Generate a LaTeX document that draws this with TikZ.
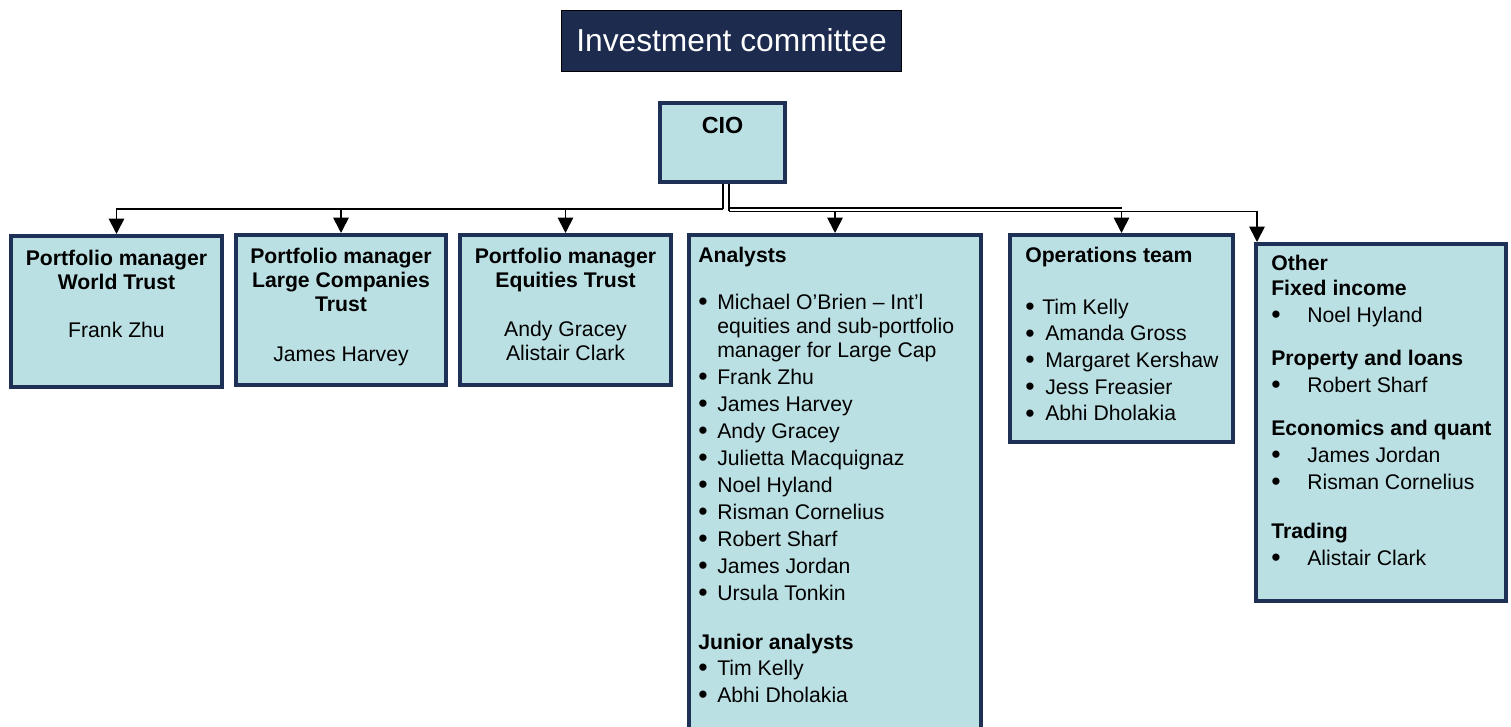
\documentclass[tikz,border=0pt]{standalone}
\usepackage{fontspec}
\setmainfont{Liberation Sans}
\usetikzlibrary{arrows.meta}
\definecolor{boxfill}{HTML}{BBE0E3}
\definecolor{navy}{HTML}{1E3055}
\definecolor{titlefill}{HTML}{1C2B4E}
\newcommand\fl{\rule{0pt}{15pt}}
\newcommand\bu[1]{\makebox[#1][l]{\raisebox{-0.9pt}{\fontsize{20pt}{18pt}\selectfont •}}}
\begin{document}
\begin{tikzpicture}[x=0.75pt,y=-0.75pt,
  box/.style={draw=navy, line width=3pt, fill=boxfill, inner sep=0pt},
  wire/.style={line width=1.3pt},
  conn/.style={line width=1.3pt, -{Triangle[width=11.5pt,length=11.5pt]}},
  txt/.style={inner sep=0pt, font=\fontsize{15.9pt}{18pt}\selectfont},
]
\useasboundingbox (0,0) rectangle (1511,727);

% title
\node[draw=black, line width=1pt, fill=titlefill, minimum width=255pt, minimum height=45.75pt, inner sep=0pt] (title) at (731.5,41) {};
\node[inner sep=0pt, anchor=base, text=white, font=\fontsize{23.8pt}{28pt}\selectfont] (titletxt) at (731.5,52) {Investment committee};

% CIO
\node[box, minimum width=93.75pt, minimum height=59.25pt] (cio) at (722.5,142.5) {};
\node[inner sep=0pt, anchor=base, font=\bfseries\fontsize{17.5pt}{20pt}\selectfont] (ciotxt) at (722.5,133.5) {CIO};

% boxes
\node[box, minimum width=158.25pt, minimum height=113.25pt] (b1) at (116.5,311.5) {};
\node[box, minimum width=157.5pt, minimum height=112.5pt] (b2) at (341,310) {};
\node[box, minimum width=158.25pt, minimum height=112.5pt] (b3) at (565.5,310) {};
\node[fill=boxfill, draw=none, inner sep=0pt, outer sep=0pt, minimum width=219pt, minimum height=369pt, anchor=north] (an) at (835,235) {};
\draw[navy, line width=3pt] (an.south west) -- (an.north west) -- (an.north east) -- (an.south east);
\node[box, minimum width=167.25pt, minimum height=155.25pt] (ops) at (1121.5,338.5) {};
\node[box, minimum width=187.5pt, minimum height=267.75pt] (oth) at (1381,422.5) {};

% connectors
\coordinate (jl) at (723,209);
\coordinate (jr) at (729,211.5);
\coordinate (jr2) at (729,208);
\draw[wire] (cio.south -| jl) -- (jl);
\draw[wire] (cio.south -| jr) -- (jr);
\draw[conn] (jl) -| (b1.north);
\draw[conn] (jl) -| (b2.north);
\draw[conn] (jl) -| (b3.north);
\draw[conn] (jr) -| ([yshift=1.5pt]an.north);
\draw[conn] (jr) -| (ops.north);
\draw[wire] (jr2) -- (jr2 -| ops.north);
\draw[conn] (jr) -| ([xshift=2.25pt]oth.north west);

% texts
\node[txt, anchor=north, align=center] (t1) at (116.5,245) {\fl\textbf{Portfolio manager}\\\textbf{World Trust}\\[18pt]Frank Zhu};
\node[txt, anchor=north, align=center] (t2) at (341,243) {\fl\textbf{Portfolio manager}\\\textbf{Large Companies}\\\textbf{Trust}\\[19.5pt]James Harvey};
\node[txt, anchor=north, align=center] (t3) at (565.5,243) {\fl\textbf{Portfolio manager}\\\textbf{Equities Trust}\\[18.75pt]Andy Gracey\\Alistair Clark};

\node[txt, anchor=north west, align=left] (tan) at (698,242) {\fl\textbf{Analysts}\\[17.25pt]
\bu{14.25pt}Michael O’Brien – Int’l\\
\hspace*{14.25pt}equities and sub-portfolio\\
\hspace*{14.25pt}manager for Large Cap\\[2.25pt]
\bu{14.25pt}Frank Zhu\\[2.25pt]
\bu{14.25pt}James Harvey\\[2.25pt]
\bu{14.25pt}Andy Gracey\\[2.25pt]
\bu{14.25pt}Julietta Macquignaz\\[2.25pt]
\bu{14.25pt}Noel Hyland\\[2.25pt]
\bu{14.25pt}Risman Cornelius\\[2.25pt]
\bu{14.25pt}Robert Sharf\\[2.25pt]
\bu{14.25pt}James Jordan\\[2.25pt]
\bu{14.25pt}Ursula Tonkin\\[18.75pt]
\textbf{Junior analysts}\\[1.5pt]
\bu{14.25pt}Tim Kelly\\[2.25pt]
\bu{14.25pt}Abhi Dholakia};

\node[txt, anchor=north west, align=left] (tops) at (1025,242) {\fl\textbf{Operations team}\\[21pt]
\bu{12.75pt}Tim Kelly\\[2pt]
\bu{15pt}Amanda Gross\\[2pt]
\bu{15pt}Margaret Kershaw\\[2pt]
\bu{15pt}Jess Freasier\\[2pt]
\bu{15pt}Abhi Dholakia};

\node[txt, anchor=north west, align=left] (toth) at (1271,250) {\fl\textbf{Other}\\[0.75pt]
\textbf{Fixed income}\\[2.25pt]
\bu{27pt}Noel Hyland\\[14.25pt]
\textbf{Property and loans}\\[2.25pt]
\bu{27pt}Robert Sharf\\[14.25pt]
\textbf{Economics and quant}\\[2.25pt]
\bu{27pt}James Jordan\\[2.25pt]
\bu{27pt}Risman Cornelius\\[18.75pt]
\textbf{Trading}\\[2.25pt]
\bu{27pt}Alistair Clark};
\end{tikzpicture}
\end{document}
